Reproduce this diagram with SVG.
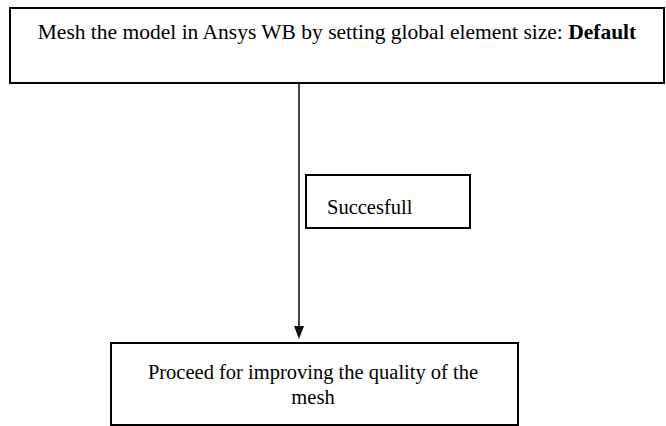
<svg xmlns="http://www.w3.org/2000/svg" width="666" height="426" viewBox="0 0 666 426">
<defs>
<style>
.box{fill:#fff;stroke:#000;stroke-width:2}
.t{font-family:"Liberation Serif","Times New Roman",serif;font-size:20.5px;fill:#000}
.edge{stroke:#444;stroke-width:2;fill:none}
</style>
</defs>
<rect width="666" height="426" fill="#fff"/>
<g id="connectors">
<line class="edge" x1="299" y1="83" x2="299" y2="327"/>
<path d="M294,326 L304,326 L299,339 Z" fill="#111"/>
</g>
<g id="n1">
<rect class="box" x="10" y="8" width="654" height="75"/>
<text class="t" x="337" y="39" text-anchor="middle" style="font-size:21.5px">Mesh the model in Ansys WB by setting global element size: <tspan font-weight="bold">Default</tspan></text>
</g>
<g id="n2">
<rect class="box" x="306" y="175" width="164" height="53"/>
<text class="t" x="327" y="214">Succesfull</text>
</g>
<g id="n3">
<rect class="box" x="111" y="343" width="407" height="82"/>
<text class="t" x="313" y="379" text-anchor="middle">Proceed for improving the quality of the</text>
<text class="t" x="313" y="404" text-anchor="middle">mesh</text>
</g>
</svg>
